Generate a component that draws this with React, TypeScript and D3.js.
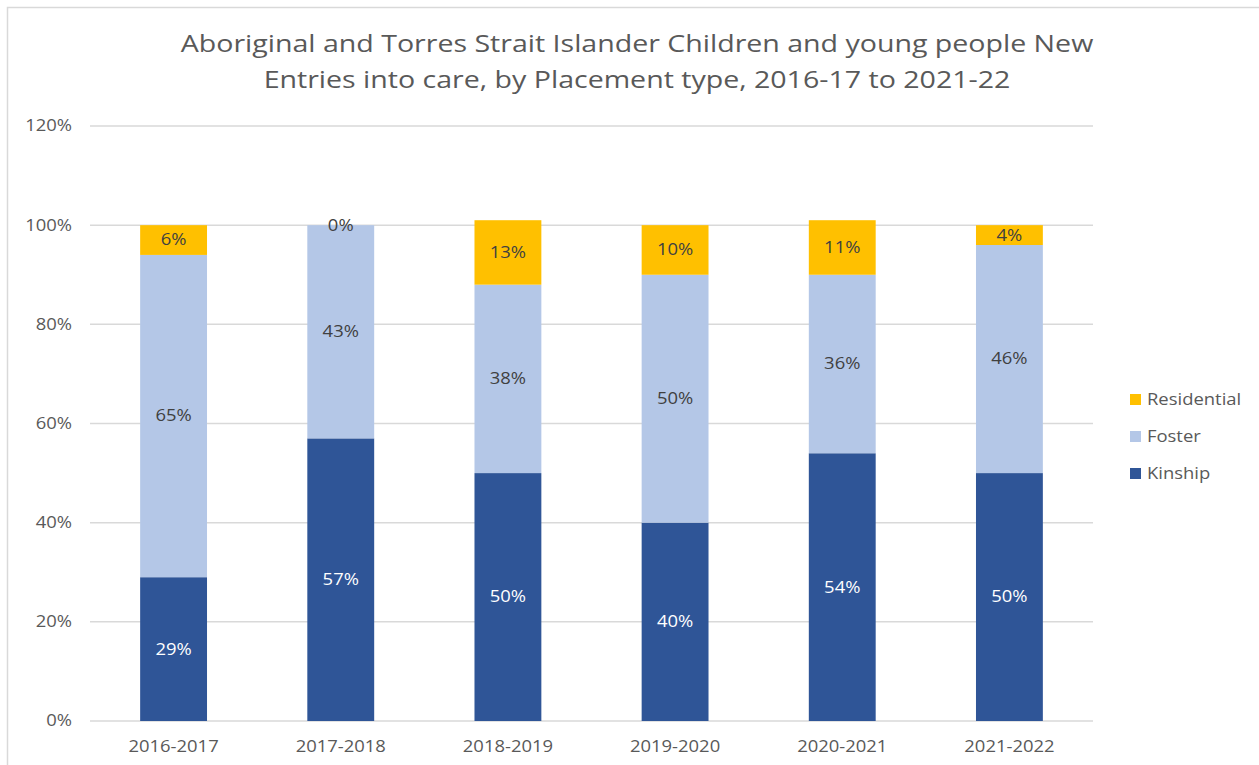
import React from "react";
import * as d3 from "d3";

const categories = ["2016-2017", "2017-2018", "2018-2019", "2019-2020", "2020-2021", "2021-2022"];
const kinship = [29, 57, 50, 40, 54, 50];
const foster = [65, 43, 38, 50, 36, 46];
const residential = [6, 0, 13, 10, 11, 4];
const yTicks = [0, 20, 40, 60, 80, 100, 120];
const titleLines = [
  "Aboriginal and Torres Strait Islander Children and young people New",
  "Entries into care, by Placement type, 2016-17 to 2021-22",
];
const seriesNames = ["Kinship", "Foster", "Residential"];
const seriesColors = ["#2F5597", "#B4C7E7", "#FFC000"];
const labelColors = ["#FFFFFF", "#404040", "#404040"];

const W = 1259;
const H = 765;
const FONT = "'Open Sans', 'Liberation Sans', sans-serif";
const SX = 1.19;

function T({ x, y, children, size, fill, anchor = "start", dy = "0" }: any) {
  return (
    <g transform={`translate(${x},${y}) scale(${SX},1)`}>
      <text x={0} y={0} dy={dy} textAnchor={anchor} fontFamily={FONT} fontSize={size} fill={fill}>
        {children}
      </text>
    </g>
  );
}

export default function App() {
  const x = d3.scaleBand<string>().domain(categories).range([90, 1093]).paddingInner(0.6).paddingOuter(0.3);
  const y = d3.scaleLinear().domain([0, 120]).range([721, 126]);
  const rows = categories.map((c, i) => ({ cat: c, Kinship: kinship[i], Foster: foster[i], Residential: residential[i] }));
  const stacked = d3.stack<any>().keys(seriesNames)(rows);

  return (
    <svg width={W} height={H} style={{ position: "absolute", left: 0, top: 0, background: "#fff" }}>
      <rect x={7.5} y={7.5} width={1300} height={800} fill="#fff" stroke="#D9D9D9" strokeWidth={1.5} />
      {titleLines.map((t, i) => (
        <T key={i} x={637} y={52 + i * 36} anchor="middle" size={24} fill="#595959">
          {t}
        </T>
      ))}
      {yTicks.map((t) => (
        <g key={t}>
          <line x1={90} x2={1093} y1={y(t)} y2={y(t)} stroke="#D9D9D9" strokeWidth={1.5} />
          <T x={72} y={y(t)} dy="0.35em" anchor="end" size={15.5} fill="#595959">
            {t}%
          </T>
        </g>
      ))}
      {stacked.map((s, si) => (
        <g key={s.key}>
          {s.map((d, i) => (
            <rect
              key={i}
              x={x(categories[i])}
              width={x.bandwidth()}
              y={y(d[1])}
              height={y(d[0]) - y(d[1])}
              fill={seriesColors[si]}
            />
          ))}
        </g>
      ))}
      {stacked.map((s, si) => (
        <g key={s.key + "l"}>
          {s.map((d, i) => (
            <T
              key={i}
              x={(x(categories[i]) as number) + x.bandwidth() / 2}
              y={y((d[0] + d[1]) / 2)}
              dy="0.35em"
              anchor="middle"
              size={15.5}
              fill={labelColors[si]}
            >
              {d[1] - d[0]}%
            </T>
          ))}
        </g>
      ))}
      {categories.map((c) => (
        <T key={c} x={(x(c) as number) + x.bandwidth() / 2} y={746.5} dy="0.35em" anchor="middle" size={15.5} fill="#595959">
          {c}
        </T>
      ))}
      {seriesNames
        .slice()
        .reverse()
        .map((n, i) => {
          const si = seriesNames.indexOf(n);
          const ly = 399.5 + i * 37;
          return (
            <g key={n}>
              <rect x={1130} y={ly - 5.5} width={11} height={11} fill={seriesColors[si]} />
              <T x={1147} y={ly} dy="0.35em" size={15.5} fill="#595959">
                {n}
              </T>
            </g>
          );
        })}
    </svg>
  );
}
